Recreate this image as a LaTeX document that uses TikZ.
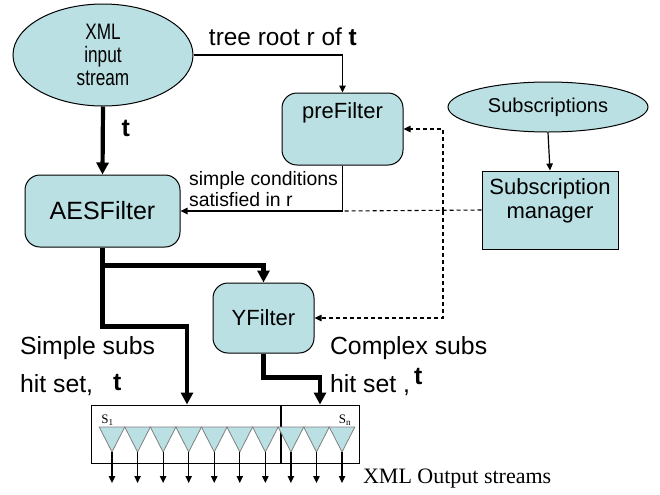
\documentclass[tikz,border=0pt]{standalone}
\usepackage{fontspec}
\setmainfont{Liberation Sans}
\newfontfamily\seriffont{Liberation Serif}
\usetikzlibrary{shapes.geometric,arrows.meta,calc}
\definecolor{filtfill}{RGB}{187,224,227}
\newcommand{\tallword}[1]{\scalebox{1}[1.3]{#1}}

\begin{document}
\begin{tikzpicture}[x=0.5pt,y=-0.5pt,
				filter/.style={rectangle, rounded corners=7.5pt, draw, fill=filtfill, line width=0.5pt, align=center},
				source/.style={ellipse, draw, fill=filtfill, line width=0.5pt, align=center, inner sep=0pt},
				manbox/.style={rectangle, draw, fill=filtfill, line width=0.5pt},
				flow/.style={-{Triangle[length=6pt,width=6pt]}, line width=2.1pt},
				ctrl/.style={-{Triangle[length=3.5pt,width=3.2pt]}, line width=0.6pt},
				cfg/.style={dash pattern=on 2pt off 1.5pt, line width=0.55pt},
				bigtxt/.style={font=\fontsize{12.4}{19}\selectfont}
				]
				\useasboundingbox (0,0) rectangle (660,494);
				
				% sources and filters
				\node[source, minimum width=90pt, minimum height=51pt, font=\fontsize{8.6}{11.5}\selectfont] (xml) at (103,55) {\tallword{XML}\\\tallword{input}\\\tallword{stream}};
				\node[filter, minimum width=60.5pt, minimum height=36pt,
					label={[anchor=north, yshift=-1.5pt, font=\fontsize{11}{13}\selectfont]north:preFilter}] (prefilter) at (342.5,129) {};
				\node[filter, minimum width=77.5pt, minimum height=36pt, font=\fontsize{12.5}{15}\selectfont] (aes) at (102.5,211) {AESFilter};
				\node[filter, minimum width=50.5pt, minimum height=35pt, font=\fontsize{11}{13}\selectfont] (yfilter) at (263.5,318) {YFilter};
				\node[source, minimum width=100pt, minimum height=25pt, font=\fontsize{10}{12}\selectfont] (subs) at (548,107) {Subscriptions};
				\node[manbox, minimum width=68pt, minimum height=39pt,
					label={[anchor=north, yshift=-0.5pt, align=center, font=\fontsize{11}{12}\selectfont]north:Subscription\\manager}] (manager) at (550,210) {};
				
				% output streams
				\node[draw, line width=0.5pt, minimum width=134pt, minimum height=29pt, inner sep=0pt] (outbox) at (225,434) {};
				\draw[line width=0.6pt] (281,0 |- outbox.north) -- (281,0 |- outbox.south);
				\foreach \i in {0,...,9} {
					\pgfmathsetmacro\cx{112+25.56*\i}
					\draw[fill=filtfill, draw=gray, line width=0.4pt] (\cx-12.8,427) -- (\cx+12.8,427) -- (\cx,452) -- cycle;
					\draw[ctrl] (\cx,452) -- (\cx,483);
				}
				\node[inner sep=0pt, anchor=south west, font=\seriffont\fontsize{6.5}{7}\selectfont] (sone) at (101,426) {S\textsubscript{1}};
				\node[inner sep=0pt, anchor=south east, font=\seriffont\fontsize{6.5}{7}\selectfont] (sn) at (352,426) {S\textsubscript{n}};
				\node[anchor=west, font=\seriffont\fontsize{11}{13}\selectfont] (outlbl) at (356,479) {XML Output streams};
				
				% connectors
				\coordinate (join) at (prefilter.south |- aes.east);
				\coordinate (tap) at (443,0 |- aes.east);
				\coordinate (split) at ($(aes.south)+(0,18)$);
				\coordinate (inS) at (187,0 |- outbox.north);
				\coordinate (inC) at (320,0 |- outbox.north);
				
				\draw[ctrl] (xml.east) -| node[pos=0.3, above=1pt, font=\fontsize{12.2}{14}\selectfont] {tree root r of \textbf{t}} (prefilter.north);
				\draw[flow] (xml.south) -- node[pos=0.33, right=5pt, font=\fontsize{12.5}{14}\selectfont] {\textbf{t}} (aes.north);
				\draw[ctrl] (prefilter.south) |- node[pos=0.5, anchor=south east, align=left, inner sep=2pt, font=\fontsize{9.7}{10.5}\selectfont] {simple conditions\\satisfied in r} (aes.east);
				\draw[ctrl] (subs.south) -- (manager.north);
				\draw[cfg] (manager.west) -- (join);
				\draw[cfg, -{Triangle[length=3.5pt,width=3.2pt]}] (tap) |- (prefilter.east);
				\draw[cfg, -{Triangle[length=3.5pt,width=3.2pt]}] (tap) |- (yfilter.east);
				\draw[line width=2.1pt] (aes.south) -- (split);
				\draw[flow] (split) -| (yfilter.north);
				\draw[flow] (split) -- ++(0,61) -| (inS);
				\draw[flow] (yfilter.south) -- ++(0,24) -| (inC);
				
				\node[anchor=west, align=left, bigtxt] (simplelbl) at (13,366) {Simple subs\\hit set,\hspace{10pt}\raisebox{1pt}{\textbf{t}}};
				\node[anchor=west, align=left, bigtxt] (complexlbl) at (323,366) {Complex subs\\hit set ,\,\raisebox{4pt}{\textbf{t}}};
			\end{tikzpicture}
\end{document}
